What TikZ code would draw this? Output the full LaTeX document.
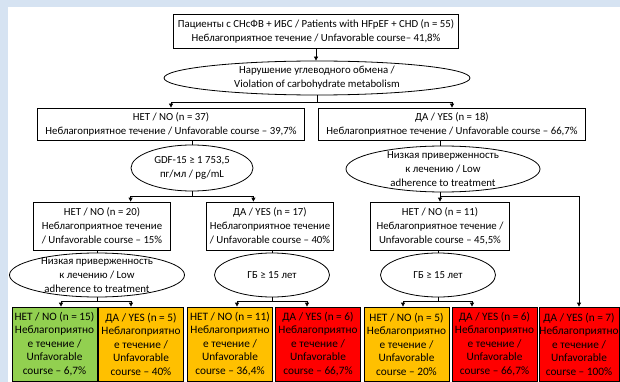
\documentclass[tikz,border=0pt]{standalone}
\usepackage{fontspec}
\setmainfont{Carlito}
\usetikzlibrary{shapes.geometric,arrows.meta}
\definecolor{bgblue}{RGB}{214,227,242}
\definecolor{okgreen}{RGB}{146,208,80}
\definecolor{midyellow}{RGB}{255,192,0}
\definecolor{badred}{RGB}{255,0,0}
\begin{document}
\begin{tikzpicture}[x=1pt,y=-1pt,
    ln/.style={line width=0.8pt},
    box/.style={draw,ln,fill=white,align=center,inner sep=0pt,font=\fontsize{10.8}{14}\selectfont},
    oval/.style={draw,ln,ellipse,inner sep=0pt},
    txt/.style={align=center,inner sep=0pt,font=\fontsize{10.8}{14}\selectfont},
    leaf/.style={box,minimum width=85,minimum height=74,font=\fontsize{11.3}{13.5}\selectfont},
    arr/.style={ln,-{Triangle[length=4pt,width=4pt]}}]
    \fill[bgblue] (0,0) rectangle (620,382);
    \fill[white] (8,7) rectangle (620,382);
    \node[box,minimum width=285,minimum height=34] (top) at (316,31)
        {Пациенты с СНсФВ + ИБС / Patients with HFpEF + CHD (n = 55)\\Неблагоприятное течение / Unfavorable course– 41,8\%};
    \node[oval,minimum width=306,minimum height=34,
        label={[txt]center:Нарушение углеводного обмена /\\Violation of carbohydrate metabolism}] (carb) at (317,78) {};
    \node[box,minimum width=267,minimum height=32] (no37) at (171,124)
        {НЕТ / NO (n = 37)\\Неблагоприятное течение / Unfavorable course – 39,7\%};
    \node[box,minimum width=267,minimum height=32] (yes18) at (452,124)
        {ДА / YES (n = 18)\\Неблагоприятное течение / Unfavorable course – 66,7\%};
    \node[oval,minimum width=122,minimum height=46,
        label={[txt]center:GDF-15 ≥ 1 753,5\\пг/мл / pg/mL}] (gdf) at (192,168) {};
    \node[oval,minimum width=194,minimum height=46,
        label={[txt]center:Низкая приверженность\\к лечению / Low\\adherence to treatment}] (lowR) at (443,169) {};
    \node[box,minimum width=137,minimum height=48] (no20) at (102,226)
        {НЕТ / NO (n = 20)\\Неблагоприятное течение\\/ Unfavorable course – 15\%};
    \node[box,minimum width=127,minimum height=48] (yes17) at (270,226)
        {ДА / YES (n = 17)\\Неблагоприятное течение\\/ Unfavorable course – 40\%};
    \node[box,minimum width=139,minimum height=48] (no11) at (440,226)
        {НЕТ / NO (n = 11)\\Неблагоприятное течение /\\Unfavorable course – 45,5\%};
    \node[oval,minimum width=175,minimum height=44,
        label={[txt]center:Низкая приверженность\\к лечению / Low\\adherence to treatment}] (lowL) at (97,275) {};
    \node[oval,minimum width=115,minimum height=44,label={[txt]center:ГБ ≥ 15 лет}] (gbL) at (272,275) {};
    \node[oval,minimum width=115,minimum height=44,label={[txt]center:ГБ ≥ 15 лет}] (gbR) at (438,275) {};
    \node[leaf,fill=okgreen] (no15) at (54.5,344)
        {НЕТ / NO (n = 15)\\Неблагоприятно\\е течение /\\Unfavorable\\course – 6,7\%};
    \node[leaf,fill=midyellow] (yes5) at (141,344)
        {ДА / YES (n = 5)\\Неблагоприятно\\е течение /\\Unfavorable\\course – 40\%};
    \node[leaf,fill=midyellow] (noB11) at (230,344)
        {НЕТ / NO (n = 11)\\Неблагоприятно\\е течение /\\Unfavorable\\course – 36,4\%};
    \node[leaf,fill=badred] (yesA6) at (318,344)
        {ДА / YES (n = 6)\\Неблагоприятно\\е течение /\\Unfavorable\\course – 66,7\%};
    \node[leaf,fill=midyellow] (no5) at (406.5,344)
        {НЕТ / NO (n = 5)\\Неблагоприятно\\е течение /\\Unfavorable\\course – 20\%};
    \node[leaf,fill=badred] (yesB6) at (494.5,344)
        {ДА / YES (n = 6)\\Неблагоприятно\\е течение /\\Unfavorable\\course – 66,7\%};
    \node[leaf,fill=badred,minimum width=80] (yes7) at (579,344)
        {ДА / YES (n = 7)\\Неблагоприятно\\е течение /\\Unfavorable\\course – 100\%};
    \coordinate (j1) at (317,102);
    \coordinate (j2) at (192,196);
    \coordinate (j3) at (440,196);
    \coordinate (k1) at (97,301);
    \coordinate (k1l) at (61,301);
    \coordinate (k1r) at (131,301);
    \coordinate (k2) at (272,301);
    \coordinate (k2l) at (237,301);
    \coordinate (k2r) at (307,301);
    \coordinate (k3) at (438,301);
    \coordinate (k3l) at (403,301);
    \coordinate (k3r) at (472,301);
    \draw[arr] (top) -- (top |- carb.north);
    \draw[ln] (carb) -- (j1);
    \draw[arr] (j1) -| (no37);
    \draw[arr] (j1) -| (yes18);
    \draw[ln] (no37.south -| gdf) -- (gdf);
    \draw[ln] (yes18.south -| j3) -- (j3 |- lowR.north);
    \draw[ln] (gdf) -- (j2);
    \draw[arr] (j2) -| (no20.north -| gdf.west);
    \draw[arr] (j2) -| (no20.north -| gdf.east);
    \draw[ln] (j3 |- lowR.south) -- (j3);
    \draw[arr] (j3) -- (no11);
    \draw[arr] (j3) -| (yes7);
    \draw[ln] (no20.south -| lowL) -- (lowL);
    \draw[ln] (yes17.south -| gbL) -- (gbL);
    \draw[ln] (no11.south -| gbR) -- (gbR);
    \draw[ln] (lowL) -- (k1);
    \draw[arr] (k1) -| (k1l |- no15.north);
    \draw[arr] (k1) -| (k1r |- yes5.north);
    \draw[ln] (gbL) -- (k2);
    \draw[arr] (k2) -| (k2l |- noB11.north);
    \draw[arr] (k2) -| (k2r |- yesA6.north);
    \draw[ln] (gbR) -- (k3);
    \draw[arr] (k3) -| (k3l |- no5.north);
    \draw[arr] (k3) -| (k3r |- yesB6.north);
\end{tikzpicture}
\end{document}
